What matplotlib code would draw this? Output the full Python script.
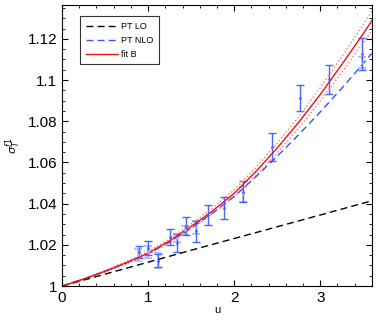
import matplotlib
matplotlib.use("Agg")
import matplotlib.pyplot as plt
import numpy as np
from matplotlib.ticker import MultipleLocator, FormatStrFormatter

plt.rcParams['font.family'] = ['Liberation Sans', 'DejaVu Sans']

# curves
u_grid = [0, 0.25, 0.5, 0.75, 1.0, 1.25, 1.5, 1.75, 2.0, 2.25, 2.5, 2.75, 3.0, 3.25, 3.5, 3.6]
fit_b = [1.0, 1.0034, 1.0072, 1.0114, 1.016, 1.022, 1.029, 1.0365, 1.045, 1.0555,
         1.067, 1.0795, 1.093, 1.1075, 1.1225, 1.1288]
fit_b_band = [0, 0.0002, 0.0004, 0.0006, 0.0008, 0.001, 0.0012, 0.0014, 0.0017, 0.002,
              0.0024, 0.0028, 0.0033, 0.0038, 0.0044, 0.0047]
pt_nlo = [1.0, 1.0034, 1.0072, 1.0113, 1.0158, 1.0215, 1.0282, 1.0355, 1.0435, 1.053,
          1.063, 1.0735, 1.0845, 1.096, 1.108, 1.113]

u_lo = [0, 0.5, 1.0, 1.5, 2.0, 2.5, 3.0, 3.6]
pt_lo = [1.0, 1.0058, 1.0116, 1.0174, 1.0231, 1.0288, 1.0345, 1.0414]

# lattice points
u_pts = [0.895, 1.00, 1.11, 1.25, 1.33, 1.435, 1.56, 1.70, 1.88, 2.10, 2.445, 2.77, 3.105, 3.48]
sig_pts = [1.0165, 1.0185, 1.0124, 1.0238, 1.0210, 1.0291, 1.0265, 1.0345, 1.0378, 1.0458,
           1.0674, 1.0911, 1.1003, 1.1128]
err_pts = [0.003, 0.0035, 0.0032, 0.0038, 0.0043, 0.0043, 0.0053, 0.0049, 0.0053, 0.0050,
           0.0069, 0.0063, 0.0069, 0.0077]

u_pts2 = [0.88, 1.00, 1.11, 1.33, 1.43, 1.56, 2.10, 3.48]
sig_pts2 = [1.0150, 1.0165, 1.0124, 1.0235, 1.0270, 1.0285, 1.0445, 1.1085]
err_pts2 = [0.003, 0.003, 0.0035, 0.002, 0.002, 0.003, 0.0035, 0.0025]

fig = plt.figure(figsize=(3.76, 3.24), dpi=100)
ax = fig.add_axes([0.165, 0.117, 0.824, 0.868])

ax.errorbar(u_pts2, sig_pts2, yerr=err_pts2, fmt='.', color='#a8b4ff', ms=2,
            elinewidth=1.2, capsize=3, capthick=1.2)
ax.errorbar(u_pts, sig_pts, yerr=err_pts, fmt='.', color='#4466ff', ms=2,
            elinewidth=1, capsize=3, capthick=1)

fb = np.array(fit_b)
band = np.array(fit_b_band)
ax.plot(u_grid, fb + band, ':', color='#ff7777', lw=1)
ax.plot(u_grid, fb - band, ':', color='#ff7777', lw=1)

l_lo, = ax.plot(u_lo, pt_lo, '--', color='black', lw=1, dashes=(5, 3))
l_nlo, = ax.plot(u_grid, pt_nlo, '--', color='#3355ff', lw=1, dashes=(5, 3))
l_fit, = ax.plot(u_grid, fit_b, '-', color='#ee1111', lw=1)

ax.set_xlim(0, 3.6)
ax.set_ylim(1.0, 1.1365)
ax.xaxis.set_major_locator(MultipleLocator(1))
ax.xaxis.set_minor_locator(MultipleLocator(0.2))
ax.yaxis.set_major_locator(MultipleLocator(0.02))
ax.yaxis.set_minor_locator(MultipleLocator(0.005))
ax.yaxis.set_major_formatter(FormatStrFormatter('%g'))
ax.tick_params(which='both', direction='in', top=True, right=True, labelsize=11)
ax.tick_params(which='major', length=4)
ax.tick_params(which='minor', length=2)

ax.set_xlabel('u', fontsize=8, labelpad=0)
ax.set_ylabel(r'$\sigma_T^{f1}$', fontsize=8, labelpad=3)

leg = ax.legend([l_lo, l_nlo, l_fit], ['PT LO', 'PT NLO', 'fit B'], loc='upper left',
                fontsize=6.5, frameon=True, fancybox=False, edgecolor='black',
                bbox_to_anchor=(0.045, 0.975), handlelength=3.6, borderpad=0.6,
                labelspacing=0.55, handletextpad=0.3)
leg.get_frame().set_linewidth(0.8)

fig.savefig('out.png', dpi=100)
